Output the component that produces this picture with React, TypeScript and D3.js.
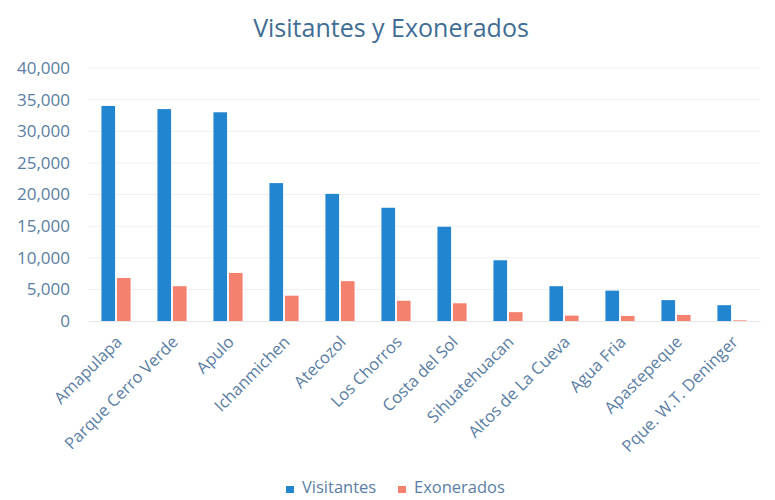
import React, { useEffect, useRef } from 'react';
import * as d3 from 'd3';

const parks = [
    'Amapulapa',
    'Parque Cerro Verde',
    'Apulo',
    'Ichanmichen',
    'Atecozol',
    'Los Chorros',
    'Costa del Sol',
    'Sihuatehuacan',
    'Altos de La Cueva',
    'Agua Fria',
    'Apastepeque',
    'Pque. W.T. Deninger',
];
const visitantes = [34000, 33500, 33000, 21800, 20100, 17900, 14900, 9600, 5500, 4800, 3300, 2500];
const exonerados = [6800, 5500, 7600, 4000, 6300, 3200, 2800, 1400, 850, 800, 950, 100];
const seriesNames = ['Visitantes', 'Exonerados'];
const yTicks = [0, 5000, 10000, 15000, 20000, 25000, 30000, 35000, 40000];

const W = 775;
const H = 500;
const margin = { left: 88, right: 15, top: 68, bottom: 179 };
const colors = ['#2185d0', '#f4806e'];
const textColor = '#5a7ea3';
const font = '"Open Sans", sans-serif';

const App: React.FC = () => {
    const svgRef = useRef<SVGSVGElement>(null);

    useEffect(() => {
        if (!svgRef.current) return;
        const svg = d3.select(svgRef.current);
        svg.selectAll('*').remove();

        const innerW = W - margin.left - margin.right;
        const innerH = H - margin.top - margin.bottom;

        const x = d3.scaleBand().domain(parks).range([0, innerW]).paddingInner(0.48).paddingOuter(0.24);
        const xSub = d3.scaleBand().domain(seriesNames).range([0, x.bandwidth()]).paddingInner(0.12);
        const y = d3.scaleLinear().domain([0, 40000]).range([innerH, 0]);

        svg.append('rect').attr('width', W).attr('height', H).attr('fill', '#fff');

        // título
        svg.append('text')
            .attr('x', 391)
            .attr('y', 37)
            .attr('text-anchor', 'middle')
            .style('font-family', font)
            .style('font-size', '25px')
            .style('fill', '#3f6d94')
            .text('Visitantes y Exonerados');

        const g = svg.append('g').attr('transform', `translate(${margin.left}, ${margin.top})`);

        // líneas de cuadrícula
        g.append('g')
            .selectAll('line')
            .data(yTicks.slice(1))
            .join('line')
            .attr('x1', 0)
            .attr('x2', innerW)
            .attr('y1', (d) => y(d))
            .attr('y2', (d) => y(d))
            .attr('stroke', '#f0f0f0');

        // eje Y
        const yAxis = g.append('g')
            .call(d3.axisLeft(y).tickValues(yTicks).tickFormat(d3.format(',')).tickSize(0).tickPadding(18));
        yAxis.select('.domain').remove();
        yAxis.selectAll('text')
            .style('font-family', font)
            .style('font-size', '17px')
            .style('fill', textColor);

        // barras
        const rows = parks.map((p, i) => ({ park: p, values: [visitantes[i], exonerados[i]] }));
        const groups = g.selectAll('.grp')
            .data(rows)
            .join('g')
            .attr('class', 'grp')
            .attr('transform', (d) => `translate(${x(d.park)}, 0)`);
        groups.selectAll('rect')
            .data((d) => d.values.map((v, k) => ({ k, v })))
            .join('rect')
            .attr('x', (d) => xSub(seriesNames[d.k]) as number)
            .attr('width', xSub.bandwidth())
            .attr('y', (d) => y(d.v))
            .attr('height', (d) => innerH - y(d.v))
            .attr('fill', (d) => colors[d.k]);

        // eje X
        const xAxis = g.append('g')
            .attr('transform', `translate(0, ${innerH})`)
            .call(d3.axisBottom(x).tickSize(0).tickPadding(0));
        xAxis.select('.domain').attr('stroke', '#e6e6e6');
        xAxis.selectAll('text')
            .attr('text-anchor', 'end')
            .attr('dy', '0')
            .attr('transform', 'translate(7, 22) rotate(-45)')
            .style('font-family', font)
            .style('font-size', '16.5px')
            .style('fill', textColor);

        // leyenda
        const legend = svg.append('g').attr('transform', 'translate(286, 493)');
        const offsets = [0, 112];
        seriesNames.forEach((name, k) => {
            const lg = legend.append('g').attr('transform', `translate(${offsets[k]}, 0)`);
            lg.append('rect').attr('x', 0).attr('y', -7).attr('width', 8).attr('height', 7).attr('fill', colors[k]);
            lg.append('text')
                .attr('x', 16)
                .attr('y', 0)
                .style('font-family', font)
                .style('font-size', '16.5px')
                .style('fill', textColor)
                .text(name);
        });
    }, []);

    return (
        <div style={{ position: 'absolute', left: 0, top: 0 }}>
            <svg ref={svgRef} width={W} height={H} style={{ display: 'block' }} />
        </div>
    );
};

export default App;
